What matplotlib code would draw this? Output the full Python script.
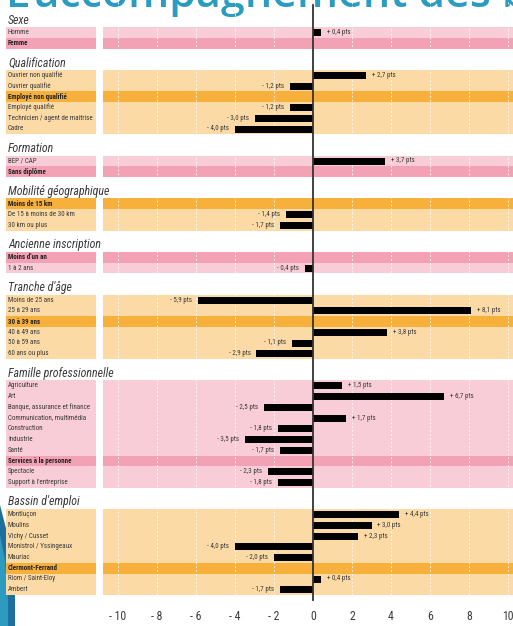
import matplotlib
matplotlib.use("Agg")
import matplotlib.pyplot as plt
from matplotlib import font_manager
from matplotlib.patches import Rectangle, Polygon

# ─── Données ─────────────────────────────
groupes = ["Sexe", "Qualification", "Formation", "Mobilité géographique",
           "Ancienne inscription", "Tranche d'âge", "Famille professionnelle",
           "Bassin d'emploi"]

sexe_mod = ["Homme", "Femme"]
sexe_val = [0.4, None]

qualif_mod = ["Ouvrier non qualifié", "Ouvrier qualifié", "Employé non qualifié",
              "Employé qualifié", "Technicien / agent de maîtrise", "Cadre"]
qualif_val = [2.7, -1.2, None, -1.2, -3.0, -4.0]

formation_mod = ["BEP / CAP", "Sans diplôme"]
formation_val = [3.7, None]

mobilite_mod = ["Moins de 15 km", "De 15 à moins de 30 km", "30 km ou plus"]
mobilite_val = [None, -1.4, -1.7]

anciennete_mod = ["Moins d'un an", "1 à 2 ans"]
anciennete_val = [None, -0.4]

age_mod = ["Moins de 25 ans", "25 à 29 ans", "30 à 39 ans", "40 à 49 ans",
           "50 à 59 ans", "60 ans ou plus"]
age_val = [-5.9, 8.1, None, 3.8, -1.1, -2.9]

famille_mod = ["Agriculture", "Art", "Banque, assurance et finance",
               "Communication, multimédia", "Construction", "Industrie", "Santé",
               "Services à la personne", "Spectacle", "Support à l'entreprise"]
famille_val = [1.5, 6.7, -2.5, 1.7, -1.8, -3.5, -1.7, None, -2.3, -1.8]

bassin_mod = ["Montluçon", "Moulins", "Vichy / Cusset", "Monistrol / Yssingeaux",
              "Mauriac", "Clermont-Ferrand", "Riom / Saint-Eloy", "Ambert"]
bassin_val = [4.4, 3.0, 2.3, -4.0, -2.0, None, 0.4, -1.7]

ticks = [-10, -8, -6, -4, -2, 0, 2, 4, 6, 8, 10]

modalites = [sexe_mod, qualif_mod, formation_mod, mobilite_mod,
             anciennete_mod, age_mod, famille_mod, bassin_mod]
valeurs = [sexe_val, qualif_val, formation_val, mobilite_val,
           anciennete_val, age_val, famille_val, bassin_val]

# ─── Style ─────────────────────────────
ROSE = ("#f8cdd7", "#f2a2b4")
ORANGE = ("#fcdaa6", "#f7b03c")
couleurs = [ROSE, ORANGE, ROSE, ORANGE, ROSE, ORANGE, ROSE, ORANGE]
TXT = "#3a3a3a"

# police étroite si disponible
dispo = {f.name for f in font_manager.fontManager.ttflist}
etroites = [n for n in ["Liberation Sans Narrow", "DejaVu Sans Condensed",
                        "Roboto Condensed", "Open Sans Condensed"] if n in dispo]
NARROW = etroites[0] if etroites else "DejaVu Sans"
SCALE = 1.0 if etroites else 0.82
plt.rcParams["font.family"] = [NARROW, "DejaVu Sans"]

W, H = 513, 626
X0 = 103                       # début du panneau graphique (px)
PX = 390 / 20                  # px par point
xmin = -10 - (118 - X0) / PX
xmax = 10 + (W - 508) / PX

fig = plt.figure(figsize=(W / 100, H / 100), dpi=100)
bg = fig.add_axes([0, 0, 1, 1])
bg.set_xlim(0, W)
bg.set_ylim(H, 0)
bg.axis("off")

ax = fig.add_axes([X0 / W, 0, (W - X0) / W, 1])
ax.set_xlim(xmin, xmax)
ax.set_ylim(H, 0)
ax.axis("off")
ax.patch.set_alpha(0)

# titre coupé en haut
bg.text(6, 7, "L'accompagnement des bénéficiaires", color="#2b9cc0",
        fontsize=31, fontweight="semibold", family=["Open Sans", "DejaVu Sans"],
        va="baseline", ha="left")

# forme bleue en bas à gauche
bg.add_patch(Polygon([(0, 505), (9, 540), (15, 590), (15, H), (0, H)],
                     closed=True, color="#1f6f9c", lw=0))
bg.add_patch(Polygon([(0, 535), (5, 560), (8, 600), (8, H), (0, H)],
                     closed=True, color="#2d9ac0", lw=0))

ROW = 10.75
y = 20.0
for g, mods, vals, (clair, fonce) in zip(groupes, modalites, valeurs, couleurs):
    bg.text(8, y, g, fontsize=8.6 * SCALE, style="italic", color=TXT,
            va="center", ha="left")
    y += 12.5
    for mod, v in zip(mods, vals):
        ref = v is None
        c = fonce if ref else clair
        bg.add_patch(Rectangle((6, y - ROW / 2), 90, ROW, color=c, lw=0))
        ax.axhspan(y - ROW / 2, y + ROW / 2, color=c, lw=0, zorder=0)
        bg.text(8, y, mod, fontsize=5 * SCALE, color="#222222" if ref else TXT,
                fontweight="bold" if ref else "normal", va="center", ha="left")
        if not ref:
            ax.barh(y, v, height=7, color="black", zorder=3)
            lab = f"{'+' if v > 0 else '-'} {abs(v):.1f}".replace(".", ",") + " pts"
            dx = 0.3
            ax.text(v + dx if v > 0 else v - dx, y, lab, fontsize=5 * SCALE,
                    color=TXT, va="center", ha="left" if v > 0 else "right", zorder=4)
        y += ROW
    y += 19.5 - ROW

# grille pointillée blanche
for t in ticks:
    ax.axvline(t, color="white", lw=0.7, ls=(0, (2, 2)), alpha=0.8, zorder=1)

# axe zéro
ax.plot([0, 0], [5, 600], color="#333333", lw=1.3, zorder=5)

for t in ticks:
    s = f"- {abs(t)}" if t < 0 else str(t)
    ax.text(t, 617, s, fontsize=8.5 * SCALE, color=TXT, ha="center", va="center")

fig.savefig("out.png", dpi=100)
